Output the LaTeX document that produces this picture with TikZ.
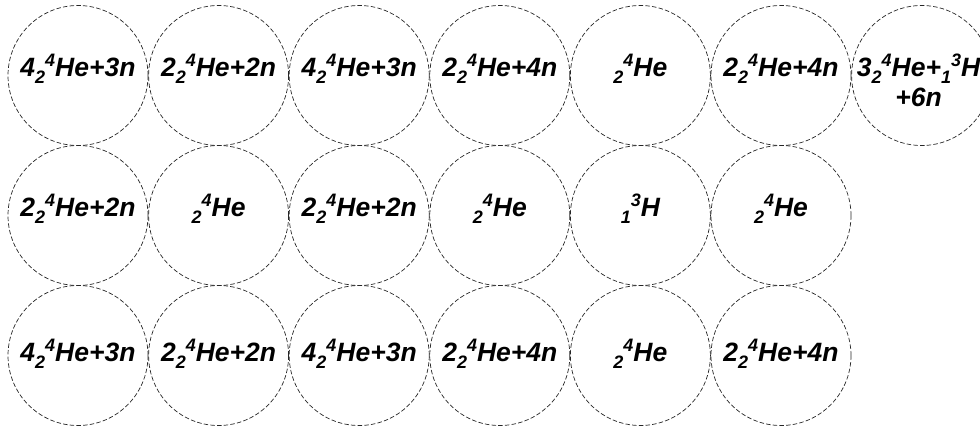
\documentclass[tikz,border=0pt]{standalone}
\usepackage{fontspec}
\setmainfont{Liberation Sans}
\newcommand\lowix[1]{\raisebox{-0.28em}{\fontsize{18}{18}\selectfont #1}}
\newcommand\highix[1]{\raisebox{0.36em}{\fontsize{18}{18}\selectfont #1}}
\newcommand\He{\lowix{2}\highix{4}He}
\newcommand\Tr{\lowix{1}\highix{3}H}
\tikzset{
  ring/.style={circle, draw=black!85, line width=0.7pt, dash pattern=on 4.5pt off 2.2pt, minimum size=140pt, inner sep=0pt},
  lbl/.style={anchor=base, font=\fontsize{26.5}{30}\selectfont\bfseries\itshape, inner sep=0pt, align=center}
}
\begin{document}
\begin{tikzpicture}[x=1pt,y=-1pt]
\useasboundingbox (0,0) rectangle (980,431);
\clip (0,0) rectangle (980,431);
% row 1
\node[ring] (a1) at (78,75.5) {};
\node[ring] (a2) at (218.6,75.5) {};
\node[ring] (a3) at (359.2,75.5) {};
\node[ring] (a4) at (499.8,75.5) {};
\node[ring] (a5) at (640.4,75.5) {};
\node[ring] (a6) at (781,75.5) {};
\node[ring] (a7) at (921.6,75.5) {};
% row 2
\node[ring] (b1) at (78,215.5) {};
\node[ring] (b2) at (218.6,215.5) {};
\node[ring] (b3) at (359.2,215.5) {};
\node[ring] (b4) at (499.8,215.5) {};
\node[ring] (b5) at (640.4,215.5) {};
\node[ring] (b6) at (781,215.5) {};
% row 3
\node[ring] (c1) at (78,355.5) {};
\node[ring] (c2) at (218.6,355.5) {};
\node[ring] (c3) at (359.2,355.5) {};
\node[ring] (c4) at (499.8,355.5) {};
\node[ring] (c5) at (640.4,355.5) {};
\node[ring] (c6) at (781,355.5) {};
% labels row 1
\node[lbl] (ta1) at ([yshift=-0.5pt]a1.center) {4\He+3n};
\node[lbl] (ta2) at ([yshift=-0.5pt]a2.center) {2\He+2n};
\node[lbl] (ta3) at ([yshift=-0.5pt]a3.center) {4\He+3n};
\node[lbl] (ta4) at ([yshift=-0.5pt]a4.center) {2\He+4n};
\node[lbl] (ta5) at ([yshift=-0.5pt]a5.center) {\He};
\node[lbl] (ta6) at ([yshift=-0.5pt]a6.center) {2\He+4n};
\node[lbl] (ta7) at ([xshift=-3pt,yshift=-30.5pt]a7.center) {3\He+\Tr\\+6n};
% labels row 2
\node[lbl] (tb1) at ([yshift=-1pt]b1.center) {2\He+2n};
\node[lbl] (tb2) at ([yshift=-1pt]b2.center) {\He};
\node[lbl] (tb3) at ([yshift=-1pt]b3.center) {2\He+2n};
\node[lbl] (tb4) at ([yshift=-1pt]b4.center) {\He};
\node[lbl] (tb5) at ([yshift=-1pt]b5.center) {\Tr};
\node[lbl] (tb6) at ([yshift=-1pt]b6.center) {\He};
% labels row 3
\node[lbl] (tc1) at ([yshift=-6pt]c1.center) {4\He+3n};
\node[lbl] (tc2) at ([yshift=-6pt]c2.center) {2\He+2n};
\node[lbl] (tc3) at ([yshift=-6pt]c3.center) {4\He+3n};
\node[lbl] (tc4) at ([yshift=-6pt]c4.center) {2\He+4n};
\node[lbl] (tc5) at ([yshift=-6pt]c5.center) {\He};
\node[lbl] (tc6) at ([yshift=-6pt]c6.center) {2\He+4n};
\end{tikzpicture}
\end{document}
